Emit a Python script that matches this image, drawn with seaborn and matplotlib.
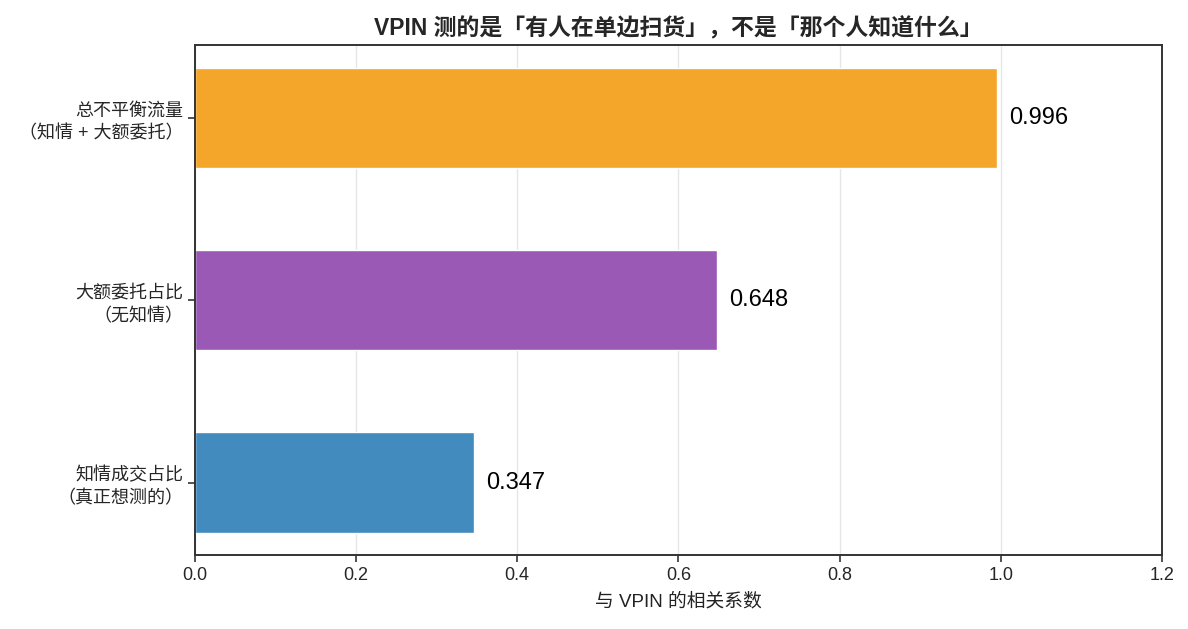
import matplotlib
matplotlib.use("Agg")
import matplotlib.pyplot as plt
import seaborn as sns
import pandas as pd

categories = ["总不平衡流量\n（知情 + 大额委托）", "大额委托占比\n（无知情）", "知情成交占比\n（真正想测的）"]
values = [0.996, 0.648, 0.347]
colors = ["#F4A62A", "#9B59B6", "#428BBF"]
title = "VPIN 测的是「有人在单边扫货」，不是「那个人知道什么」"
xlabel = "与 VPIN 的相关系数"

sns.set_theme(style="white")
plt.rcParams['font.family'] = ['Liberation Sans', 'Noto Sans CJK SC', 'DejaVu Sans']

df = pd.DataFrame({"cat": categories, "val": values})

fig, ax = plt.subplots(figsize=(11.88, 6.29), dpi=100)
fig.subplots_adjust(left=0.164, right=0.978, top=0.928, bottom=0.117)

sns.barplot(data=df, x="val", y="cat", hue="cat", palette=colors, legend=False,
            width=0.55, orient="h", ax=ax, saturation=1)

for i, v in enumerate(values):
    ax.text(v + 0.015, i, f"{v:.3f}", va="center", ha="left", fontsize=17, color="black")

ax.set_xlim(0, 1.2)
ax.set_ylim(2.4, -0.4)
ax.set_xticks([0, 0.2, 0.4, 0.6, 0.8, 1.0, 1.2])
ax.set_xticklabels(["0.0", "0.2", "0.4", "0.6", "0.8", "1.0", "1.2"])
ax.xaxis.grid(True, color="#e6e6e6", linewidth=1)
ax.set_axisbelow(True)
ax.set_ylabel("")
ax.set_xlabel(xlabel, fontsize=13.5, color="#222222", labelpad=6)
ax.set_title(title, fontsize=16.5, fontweight="bold", pad=7)
ax.tick_params(axis="x", labelsize=13, length=5, width=1.2, color="#333333", bottom=True)
ax.tick_params(axis="y", labelsize=13, length=5, width=1.2, color="#333333", left=True)
for lbl in ax.get_yticklabels():
    lbl.set_linespacing(1.4)
for s in ax.spines.values():
    s.set_color("#333333")
    s.set_linewidth(1.4)
    s.set_visible(True)

fig.savefig("out.png", dpi=100)
